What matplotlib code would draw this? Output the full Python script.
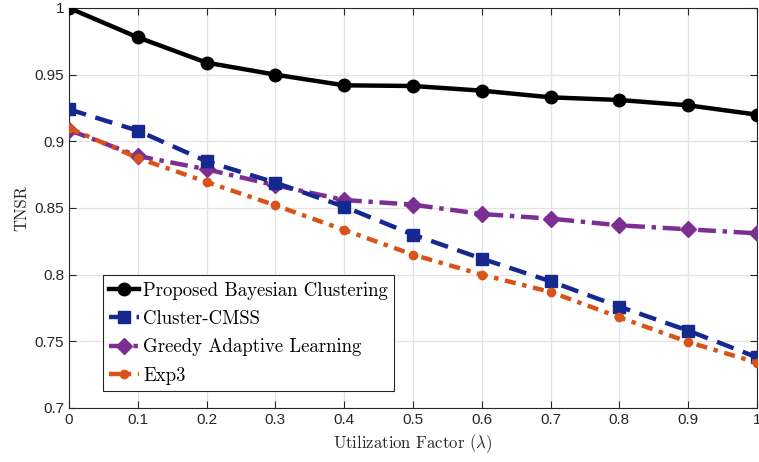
import numpy as np
import matplotlib
matplotlib.use("Agg")
import matplotlib.pyplot as plt

# ── Datos ─────────────────────────────────────────────
lam = [0, 0.1, 0.2, 0.3, 0.4, 0.5, 0.6, 0.7, 0.8, 0.9, 1.0]
bayes  = [1.000, 0.978, 0.959, 0.950, 0.942, 0.9415, 0.938, 0.933, 0.931, 0.927, 0.920]
cmss   = [0.924, 0.908, 0.885, 0.869, 0.851, 0.830, 0.812, 0.795, 0.776, 0.758, 0.738]
greedy = [0.9085, 0.889, 0.879, 0.867, 0.856, 0.8525, 0.8455, 0.842, 0.837, 0.834, 0.831]
exp3   = [0.910, 0.8875, 0.8695, 0.852, 0.8335, 0.815, 0.800, 0.787, 0.768, 0.7495, 0.734]

xticks = [0, 0.1, 0.2, 0.3, 0.4, 0.5, 0.6, 0.7, 0.8, 0.9, 1]
xlabels = ["0", "0.1", "0.2", "0.3", "0.4", "0.5", "0.6", "0.7", "0.8", "0.9", "1"]
yticks = [0.7, 0.75, 0.8, 0.85, 0.9, 0.95, 1.0]
ylabels = ["0.7", "0.75", "0.8", "0.85", "0.9", "0.95", "1"]

plt.rcParams["mathtext.fontset"] = "cm"
SERIF = ["cmr10", "DejaVu Serif"]

fig = plt.figure(figsize=(7.59, 4.62), dpi=100)
ax = fig.add_axes([0.0909, 0.1169, 0.9065, 0.8658])

ax.plot(lam, bayes, color="black", linewidth=3.2, marker="o", markersize=9,
        label="Proposed Bayesian Clustering", zorder=5)
ax.plot(lam, cmss, color="#14288f", linewidth=3.2, linestyle=(0, (4, 2.2)),
        marker="s", markersize=8, label="Cluster-CMSS", zorder=4)
ax.plot(lam, greedy, color="#7d2e92", linewidth=3.2, linestyle=(0, (4, 1.5, 1, 1.5)),
        marker="D", markersize=8, label="Greedy Adaptive Learning", zorder=3)
ax.plot(lam, exp3, color="#d95319", linewidth=3.2, linestyle=(0, (2.5, 1.5, 1, 1.5)),
        marker="o", markersize=6, label="Exp3", zorder=4)

ax.set_xlim(0, 1)
ax.set_ylim(0.7, 1.0)
ax.set_xticks(xticks)
ax.set_xticklabels(xlabels)
ax.set_yticks(yticks)
ax.set_yticklabels(ylabels)
ax.tick_params(direction="in", length=5, width=0.8, colors="#262626",
               labelsize=11, top=True, right=True)
for lbl in ax.get_xticklabels() + ax.get_yticklabels():
    lbl.set_family(["Liberation Sans", "DejaVu Sans"])
for s in ax.spines.values():
    s.set_color("#262626")
    s.set_linewidth(0.8)
ax.grid(color="#e3e3e3", linewidth=0.9)
ax.set_axisbelow(True)

ax.set_xlabel(r"Utilization Factor ($\lambda$)", family=SERIF, fontsize=12, color="#262626")
ax.set_ylabel("TNSR", family=SERIF, fontsize=12, color="#262626")

leg = ax.legend(loc="lower left", bbox_to_anchor=(0.049, 0.042), prop={"family": SERIF, "size": 13.5},
                fancybox=False, framealpha=1, edgecolor="#262626", handlelength=1.6,
                handletextpad=0.2, borderpad=0.35, labelspacing=0.55, borderaxespad=0)
leg.get_frame().set_linewidth(0.8)

plt.savefig("out.png", dpi=100)
